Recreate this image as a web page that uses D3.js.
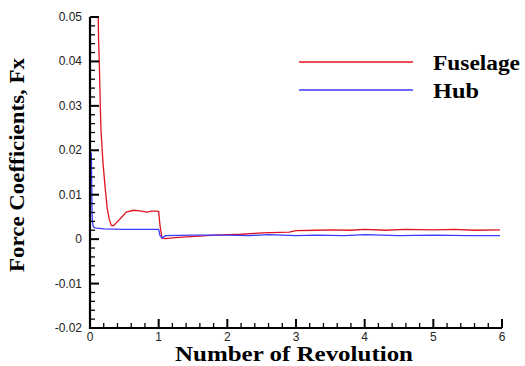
<!DOCTYPE html>
<html>
<head>
<meta charset="utf-8">
<script src="https://cdn.jsdelivr.net/npm/d3@7"></script>
<style>
  body { margin: 0; background: #fff; }
  svg { display: block; }
</style>
</head>
<body>
<div id="chart"></div>
<script>
// revolution count, force coefficient
const fuselageT = [0.115, 0.125, 0.135, 0.15, 0.16, 0.19, 0.22, 0.25, 0.28, 0.31, 0.34, 0.38, 0.44, 0.53, 0.63, 0.7, 0.83, 0.9, 0.97, 1.0, 1.02, 1.05, 1.1, 1.2, 1.4, 1.6, 1.8, 2.0, 2.2, 2.4, 2.5, 2.9, 3.0, 3.3, 3.5, 3.8, 4.0, 4.3, 4.6, 5.0, 5.3, 5.6, 5.97];
const fuselageFx = [0.055, 0.045, 0.04, 0.03, 0.0245, 0.017, 0.0117, 0.007, 0.0045, 0.0031, 0.003, 0.0036, 0.0046, 0.0061, 0.0065, 0.0064, 0.0061, 0.0063, 0.0063, 0.0062, 0.003, 0.0002, 0.0001, 0.0003, 0.0005, 0.0007, 0.0009, 0.001, 0.0011, 0.0013, 0.0014, 0.0016, 0.0019, 0.002, 0.0021, 0.002, 0.0022, 0.002, 0.0022, 0.0021, 0.0022, 0.002, 0.0021];

const hubT = [0.02, 0.025, 0.03, 0.035, 0.045, 0.06, 0.1, 0.2, 0.5, 0.8, 1.0, 1.02, 1.05, 1.1, 1.5, 2.0, 2.3, 2.6, 3.0, 3.3, 3.7, 4.0, 4.5, 5.0, 5.5, 5.97];
const hubFx = [0.0195, 0.012, 0.006, 0.004, 0.003, 0.0026, 0.0025, 0.0023, 0.0022, 0.0022, 0.0022, 0.0008, 0.0003, 0.0008, 0.0009, 0.0009, 0.0008, 0.001, 0.0008, 0.0009, 0.0008, 0.001, 0.0008, 0.0009, 0.0008, 0.0008];

const xTicks = [0, 1, 2, 3, 4, 5, 6];
const yTicks = [-0.02, -0.01, 0, 0.01, 0.02, 0.03, 0.04, 0.05];
const yTickLabels = ["-0.02", "-0.01", "0", "0.01", "0.02", "0.03", "0.04", "0.05"];

const width = 525, height = 366;
const margin = { left: 90, right: 23, top: 17, bottom: 38 };

const svg = d3.select("#chart").append("svg")
  .attr("width", width)
  .attr("height", height);

const x = d3.scaleLinear().domain([0, 6]).range([margin.left, width - margin.right]);
const y = d3.scaleLinear().domain([-0.02, 0.05]).range([height - margin.bottom, margin.top]);

svg.append("clipPath").attr("id", "plot")
  .append("rect")
  .attr("x", margin.left).attr("y", margin.top)
  .attr("width", x(6) - x(0)).attr("height", y(-0.02) - y(0.05));

// data lines
const line = d3.line().x(d => x(d[0])).y(d => y(d[1]));

svg.append("path")
  .datum(d3.zip(fuselageT, fuselageFx))
  .attr("clip-path", "url(#plot)")
  .attr("fill", "none")
  .attr("stroke", "#e0141e")
  .attr("stroke-width", 1.3)
  .attr("d", line);

svg.append("path")
  .datum(d3.zip(hubT, hubFx))
  .attr("clip-path", "url(#plot)")
  .attr("fill", "none")
  .attr("stroke", "#3a3aff")
  .attr("stroke-width", 1.3)
  .attr("d", line);

// axes: ticks point inward, major every unit / 0.01, minor 5 per interval
const xMinor = d3.range(0, 31).map(i => i / 5);
const yMinor = d3.range(0, 36).map(i => -0.02 + i * 0.002);

svg.append("g").selectAll("line")
  .data(xMinor)
  .join("line")
  .attr("x1", d => x(d)).attr("x2", d => x(d))
  .attr("y1", y(-0.02))
  .attr("y2", (d, i) => y(-0.02) - (i % 5 === 0 ? 9 : 5))
  .attr("stroke", "#000")
  .attr("stroke-width", (d, i) => i % 5 === 0 ? 2 : 1.3);

svg.append("g").selectAll("line")
  .data(yMinor)
  .join("line")
  .attr("y1", d => y(d)).attr("y2", d => y(d))
  .attr("x1", x(0))
  .attr("x2", (d, i) => x(0) + (i % 5 === 0 ? 9 : 5))
  .attr("stroke", "#000")
  .attr("stroke-width", (d, i) => i % 5 === 0 ? 2 : 1.3);

svg.append("line")
  .attr("x1", x(0)).attr("x2", x(6))
  .attr("y1", y(-0.02)).attr("y2", y(-0.02))
  .attr("stroke", "#000").attr("stroke-width", 2.2);
svg.append("line")
  .attr("x1", x(0)).attr("x2", x(0))
  .attr("y1", y(-0.02) + 1).attr("y2", y(0.05))
  .attr("stroke", "#000").attr("stroke-width", 2.2);

// tick labels
svg.append("g").selectAll("text")
  .data(xTicks)
  .join("text")
  .attr("x", d => x(d))
  .attr("y", 341)
  .attr("text-anchor", "middle")
  .attr("font-family", "Liberation Sans, Arial, sans-serif")
  .attr("font-size", 12)
  .attr("fill", "#222")
  .text(d => d);

svg.append("g").selectAll("text")
  .data(yTicks)
  .join("text")
  .attr("x", 82)
  .attr("y", d => y(d) + 4)
  .attr("text-anchor", "end")
  .attr("font-family", "Liberation Sans, Arial, sans-serif")
  .attr("font-size", 12)
  .attr("fill", "#222")
  .text((d, i) => yTickLabels[i]);

// axis titles
svg.append("text")
  .attr("x", 175)
  .attr("y", 361)
  .attr("textLength", 238)
  .attr("lengthAdjust", "spacingAndGlyphs")
  .attr("font-family", "Liberation Serif, Times New Roman, serif")
  .attr("font-weight", "bold")
  .attr("font-size", 20)
  .text("Number of Revolution");

svg.append("text")
  .attr("transform", "translate(24,272) rotate(-90)")
  .attr("textLength", 214)
  .attr("lengthAdjust", "spacingAndGlyphs")
  .attr("font-family", "Liberation Serif, Times New Roman, serif")
  .attr("font-weight", "bold")
  .attr("font-size", 20)
  .text("Force Coefficients, Fx");

// legend
const legend = [
  { name: "Fuselage", color: "#e0141e", y: 62, base: 69.5, len: 87 },
  { name: "Hub", color: "#3a3aff", y: 90, base: 97.5, len: 46 }
];
const lg = svg.append("g");
lg.selectAll("line")
  .data(legend)
  .join("line")
  .attr("x1", 299).attr("x2", 413)
  .attr("y1", d => d.y).attr("y2", d => d.y)
  .attr("stroke", d => d.color)
  .attr("stroke-width", 1.3);
lg.selectAll("text")
  .data(legend)
  .join("text")
  .attr("x", 433)
  .attr("y", d => d.base)
  .attr("textLength", d => d.len)
  .attr("lengthAdjust", "spacingAndGlyphs")
  .attr("font-family", "Liberation Serif, Times New Roman, serif")
  .attr("font-weight", "bold")
  .attr("font-size", 20)
  .text(d => d.name);
</script>
</body>
</html>
